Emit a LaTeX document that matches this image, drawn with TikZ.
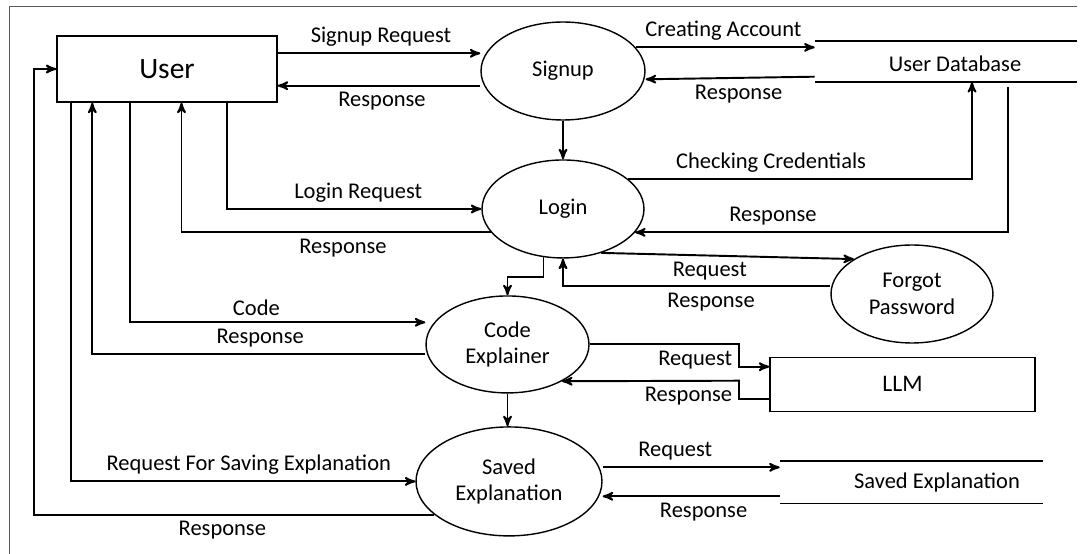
\documentclass[tikz,border=0pt]{standalone}
\usepackage{fontspec}
\setmainfont{Carlito}
\usepackage{tikz}
\usetikzlibrary{arrows,shapes.geometric,calc}
\usetikzlibrary{positioning}

\tikzset{
  entity/.style={rectangle, draw, line width=0.8pt, inner sep=0pt},
  process/.style={ellipse, draw, line width=0.8pt, inner sep=0pt, align=center},
  datastore/.style={rectangle, inner sep=0pt}
}

\begin{document}
\begin{tikzpicture}[x=0.02cm, y=-0.02cm, >=stealth', font=\fontsize{12.8}{15.2}\selectfont]
    \useasboundingbox (0,0) rectangle (1080,554);

    % FRAME
    \draw[black!65, line width=0.6pt] (1077,6.7) -- (9.3,6.7) -- (9.3,560);

    % ENTITIES
    \node[entity, minimum width=4.4cm, minimum height=1.32cm,
    font=\fontsize{16.8}{20}\selectfont] (USER) at (167,69) {User};
    \node[entity, minimum width=5.3cm, minimum height=1.08cm,
    font=\fontsize{13.5}{16}\selectfont] (LLM) at (902.5,384.3) {LLM};

    % PROCESSES
    \node[process, minimum width=3.28cm, minimum height=1.96cm] (SIGNUP) at (563,71) {Signup};
    \node[process, minimum width=3.24cm, minimum height=1.96cm,
      node distance=2.76cm,
    below of=SIGNUP] (LOGIN) {Login};
    \node[process, minimum width=3.26cm, minimum height=1.94cm,
      node distance=2.71cm,
      below of=LOGIN,
    xshift=-1.11cm] (CODE_EXPLAINER) {Code\\Explainer};
    \node[process, minimum width=3.72cm, minimum height=2.18cm,
      node distance=2.74cm,
      below of=CODE_EXPLAINER,
    xshift=0.03cm] (SAVED_EXPLANATION) {Saved\\Explanation};
    \node[process, minimum width=3.24cm, minimum height=1.96cm] (FORGOT_PASSWORD) at (912,294) {Forgot\\Password};

    % DATA STORES
    \node[datastore, minimum width=5.24cm, minimum height=0.808cm,
    label={[xshift=0.18cm, yshift=-0.05cm]center:User Database}] (USER_DB) at (946,61.5) {};
    \node[datastore, minimum width=5.26cm, minimum height=0.84cm,
    label={[xshift=0.51cm]center:Saved Explanation}] (SAVED_DB) at (911.5,482.3) {};
    \draw[line width=0.8pt] (USER_DB.north west) -- (USER_DB.north east)
    (USER_DB.south west) -- (USER_DB.south east);
    \draw[line width=0.8pt] (SAVED_DB.north west) -- (SAVED_DB.north east)
    (SAVED_DB.south west) -- (SAVED_DB.south east);

    % LINES
    \begin{scope}[->, line width=1.1pt]
      % signup
      \draw (USER.east |- 0,53.3) -- node[above, pos=0.51] {Signup Request} (SIGNUP.west |- 0,53.3);
      \draw (SIGNUP.west |- 0,85.7) -- node[below, pos=0.485] {Response} (USER.east |- 0,85.7);
      \draw (SIGNUP.18) -- node[above, pos=0.49] {Creating Account} (SIGNUP.18 -| USER_DB.west);
      \draw (USER_DB.west |- 0,76.7) -- node[below, pos=0.45] {Response} (SIGNUP.east |- 0,79.3);
      \draw (SIGNUP.south) -- (LOGIN.north);

      % login
      \draw (227,0 |- USER.south) |- node[above, pos=0.758] {Login Request} (LOGIN.west);
      \draw (LOGIN.198) -| node[below, pos=0.239] {Response} (181.5,0 |- USER.south);
      \draw (LOGIN.25) -| node[above, pos=0.208] {Checking Credentials} (972,0 |- USER_DB.south);
      \draw ($(USER_DB.south)+(62,5)$) |- node[above, pos=0.815] {Response} (LOGIN.-18);
      \draw (LOGIN.-49) -- node[below, pos=0.43] {Request} (FORGOT_PASSWORD.149);
      \draw (FORGOT_PASSWORD.west |- 0,286.3) -| node[below, pos=0.223] {Response} (LOGIN.south);
      \draw (LOGIN.-112) |- (CODE_EXPLAINER.north |- 0,277.3) -- (CODE_EXPLAINER.north);

      % code explainer
      \draw (130,0 |- USER.south) |- node[above, pos=0.714] {Code} (CODE_EXPLAINER.west |- 0,322.3);
      \draw (CODE_EXPLAINER.west |- 0,354) -| node[above, pos=0.248] {Response} (92.3,0 |- USER.south);
      \draw (CODE_EXPLAINER.east) -| node[below left] {Request} (739,366.7) -- (LLM.west |- 0,366.7);
      \draw (LLM.west |- 0,399) -| (739,380.7) -- node[below left, pos=0] {Response} (CODE_EXPLAINER.-34);
      \draw (CODE_EXPLAINER.south) -- (CODE_EXPLAINER.south |- SAVED_EXPLANATION.north);

      % saved explanation
      \draw (71.3,0 |- USER.south) |- node[above, pos=0.758] {Request For Saving Explanation} (SAVED_EXPLANATION.west);
      \draw (SAVED_EXPLANATION.204) -| node[below, pos=0.265] {Response} (34.4,0 |- USER.west) -- (USER.west);
      \draw (SAVED_EXPLANATION.east |- 0,467.3) -- node[above, pos=0.41] {Request} (SAVED_DB.west |- 0,467.3);
      \draw (SAVED_DB.west |- 0,496.3) -- node[below, pos=0.43] {Response} (SAVED_EXPLANATION.east |- 0,496.3);
    \end{scope}
\end{tikzpicture}
\end{document}
